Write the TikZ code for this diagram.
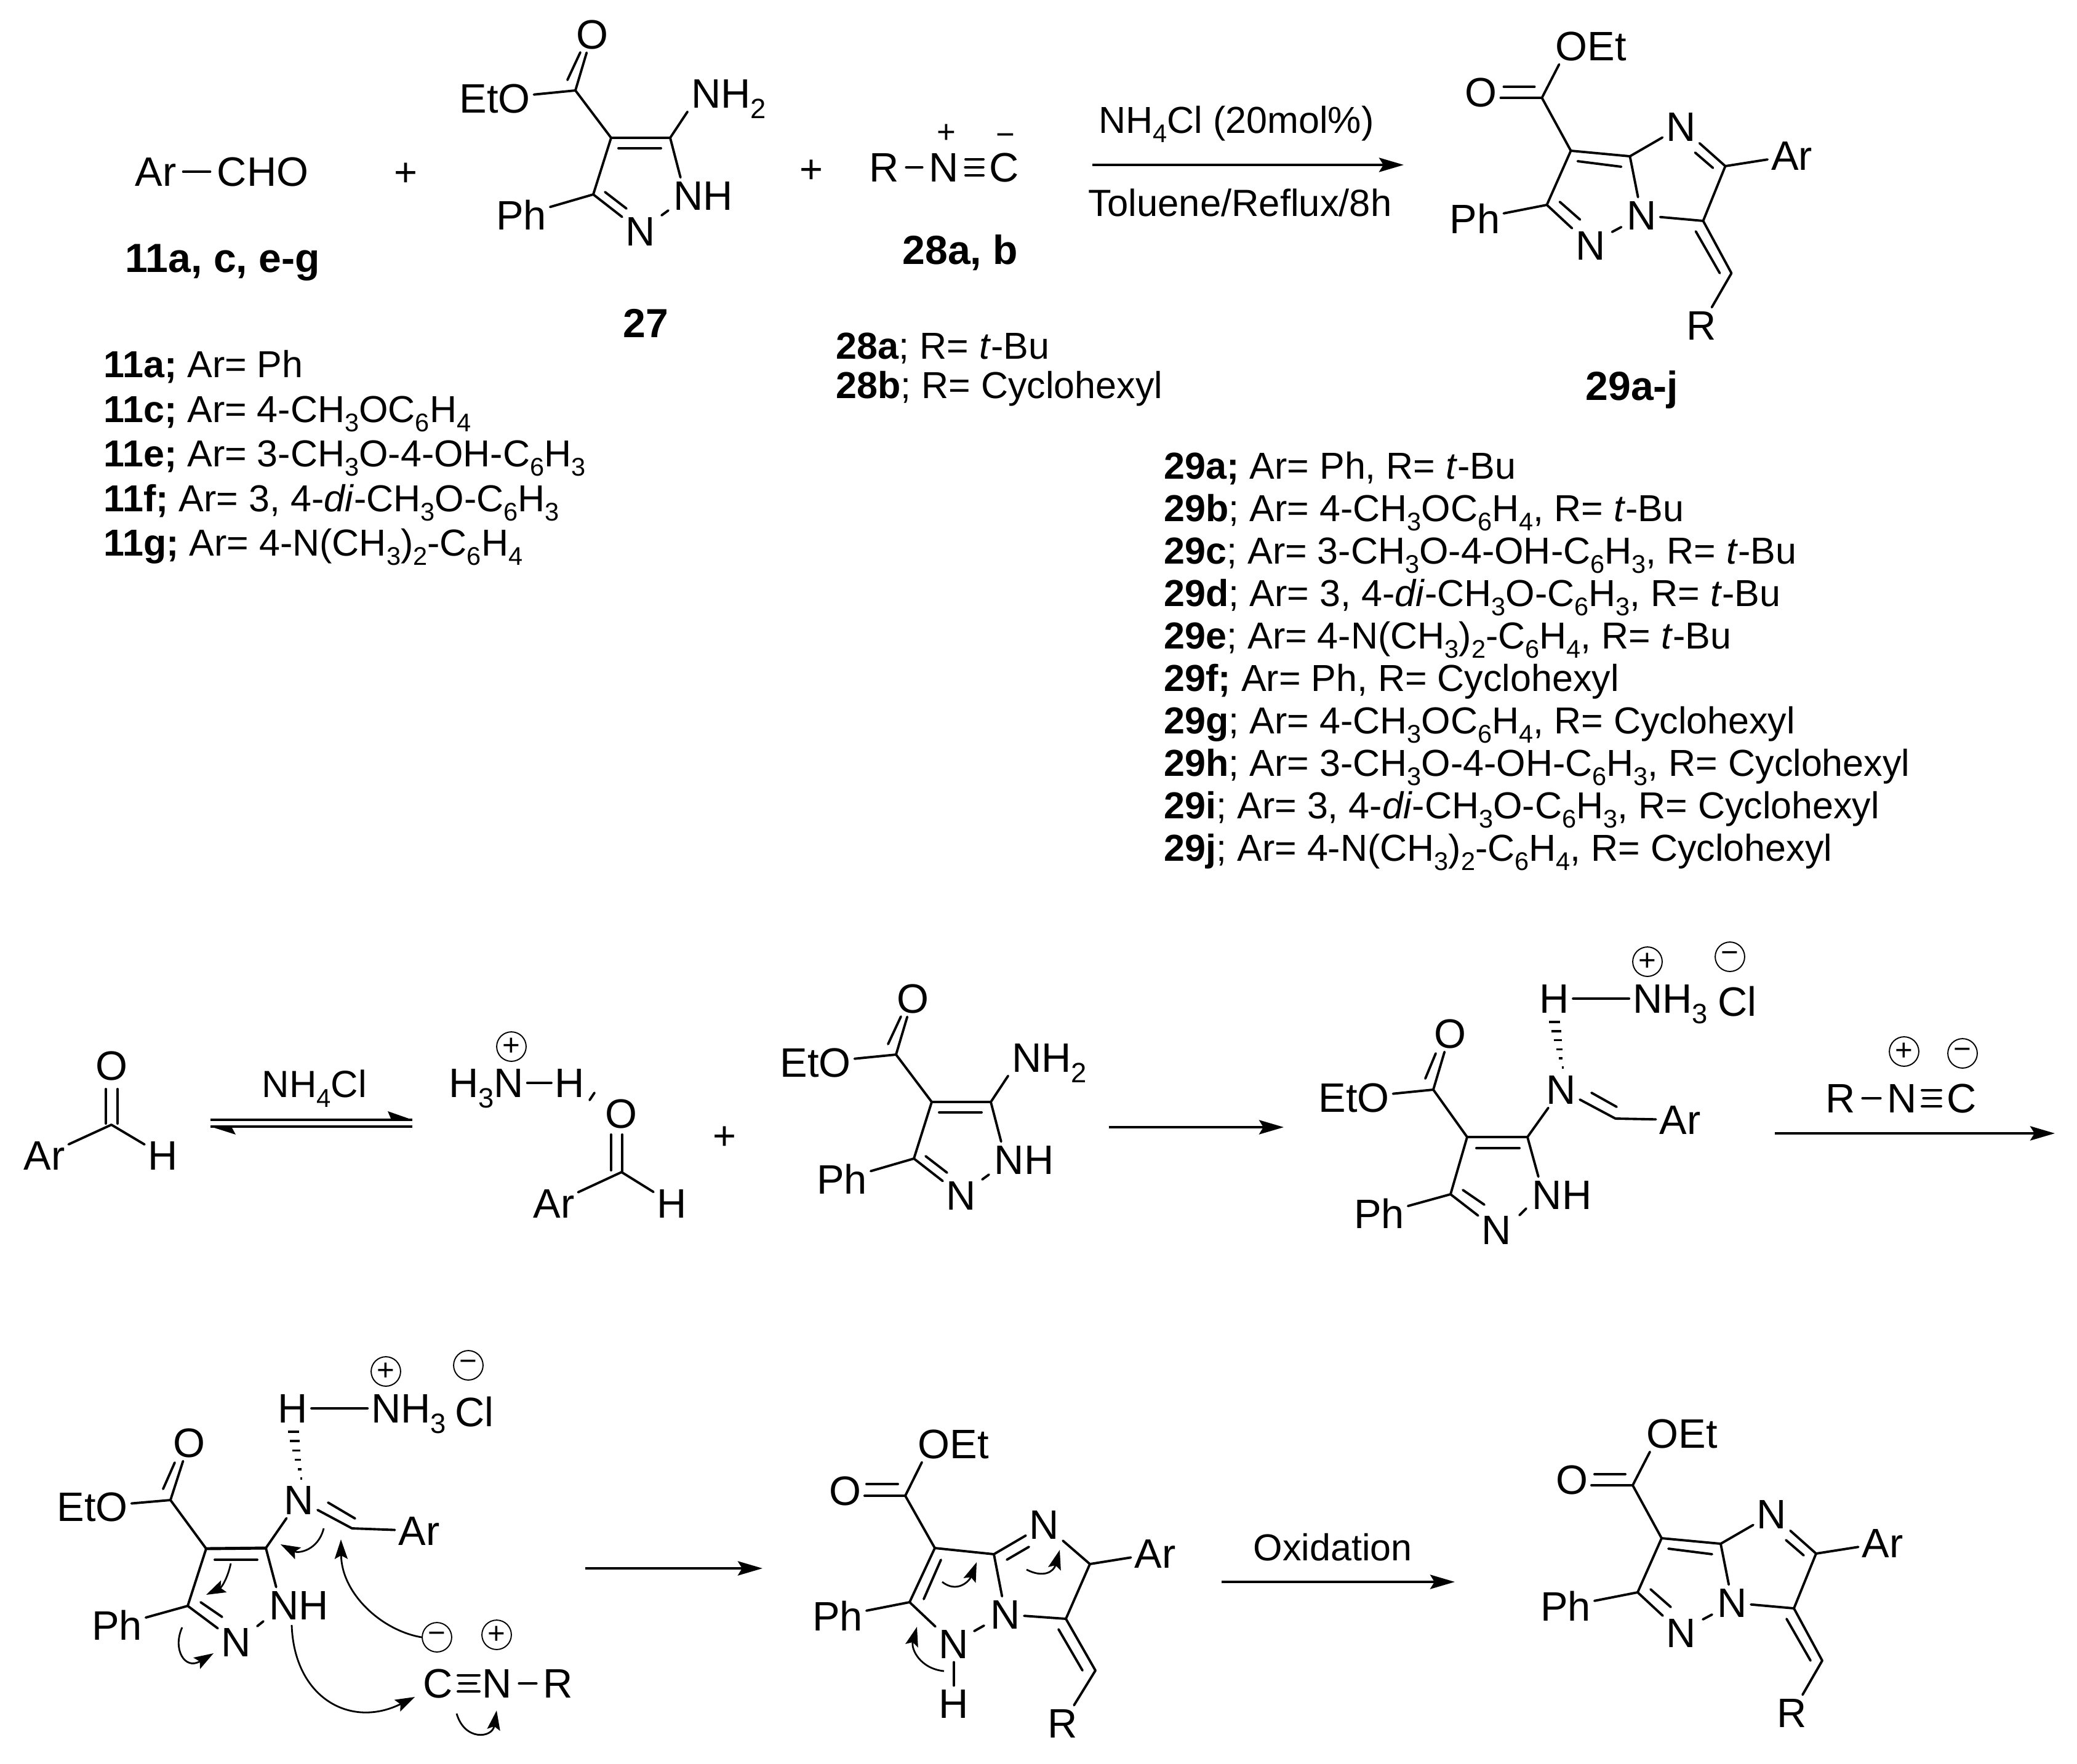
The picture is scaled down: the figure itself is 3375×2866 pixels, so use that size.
\documentclass[tikz,border=0pt]{standalone}
\usepackage{fontspec}
\setmainfont{Liberation Sans}
\usetikzlibrary{arrows.meta,calc}
\newcommand\fchem{\fontsize{19}{22}\selectfont}
\newcommand\flst{\fontsize{17.35}{20}\selectfont}
\newcommand\fcnd{\fontsize{17.5}{20}\selectfont}
\newcommand\fcpd{\fontsize{18.8}{22}\selectfont\bfseries}
\newcommand\sbs[1]{\raisebox{-.26em}{\scalebox{.68}{#1}}}
\tikzset{
  atom/.style={font=\fchem,inner sep=1.7pt,outer sep=0pt,text height=13.4pt,text depth=0pt},
  bnd/.style={line width=1.1pt,line cap=round,black},
  rxn/.style={line width=1.1pt,-{Stealth[length=11.4pt,width=6.6pt,inset=2pt]}},
  curv/.style={line width=.8pt,-{Stealth[length=9pt,width=6pt,inset=1.6pt]}},
  lst/.style={font=\flst,anchor=base west,inner sep=0pt},
  cond/.style={font=\fcnd,anchor=base west,inner sep=0pt},
  cpd/.style={font=\fcpd,anchor=base,inner sep=0pt},
  chg/.style={draw,circle,line width=.55pt,inner sep=0pt,minimum size=13.6pt,font=\fontsize{14}{14}\selectfont},
  sgn/.style={inner sep=0pt,font=\fontsize{15}{15}\selectfont},
  plus/.style={inner sep=0pt,font=\fontsize{18.5}{18.5}\selectfont},
}
% pyrazole amine 27
\newcommand\pyrazmol{%
  \coordinate (c) at (935,147);
  \coordinate (c4) at (993,224);
  \coordinate (c5) at (1089,224);
  \coordinate (c3) at (964,316);
  \node[atom] (o) at (962,56) {O};
  \node[atom] (eto) at (804,160) {EtO};
  \node[atom] (nh2) at (1184,152) {NH\sbs{2}};
  \node[atom] (nh) at (1143,318) {NH};
  \node[atom] (n) at (1041,376) {N};
  \node[atom] (ph) at (847,350) {Ph};
  \draw[bnd] (c) -- (o);
  \draw[bnd] (922,130) -- (943,85);
  \draw[bnd] (c) -- (eto);
  \draw[bnd] (c) -- (c4);
  \draw[bnd] (c4) -- (c5);
  \draw[bnd] (1005,241) -- (1074,241);
  \draw[bnd] (c5) -- (nh2.south west);
  \draw[bnd] (c5) -- ([shift={(17,0)}]nh.north west);
  \draw[bnd] (1075,350) -- (1086,342);
  \draw[bnd] (c3) -- (n);
  \draw[bnd] (983,312) -- (1018,339);
  \draw[bnd] (c3) -- (c4);
  \draw[bnd] (c3) -- (ph);
}
% final product 29
\newcommand\prodmol{%
  \coordinate (c) at (2653,2414);
  \coordinate (c3a) at (2700,2500);
  \coordinate (c7) at (2796,2509);
  \coordinate (car) at (2951,2525);
  \coordinate (cx) at (2915,2614);
  \coordinate (cph) at (2661,2588);
  \coordinate (ch) at (2961,2699);
  \node[atom] (o) at (2554,2405) {O};
  \node[atom] (oet) at (2733,2330) {OEt};
  \node[atom] (n7) at (2879,2461) {N};
  \node[atom] (ar) at (3059,2508) {Ar};
  \node[atom] (nb) at (2815,2605) {N};
  \node[atom] (nl) at (2732,2654) {N};
  \node[atom] (ph) at (2544,2611) {Ph};
  \node[atom] (r) at (2912,2784) {R};
  \draw[bnd] (c) -- (o.east |- c);
  \draw[bnd] (2591,2396) -- (2641,2396);
  \draw[bnd] (c) -- ([shift={(-52,0)}]oet.south);
  \draw[bnd] (c) -- (c3a);
  \draw[bnd] (c3a) -- (c7);
  \draw[bnd] (2711,2517) -- (2782,2526);
  \draw[bnd] (c7) -- (n7);
  \draw[bnd] (car) -- (n7);
  \draw[bnd] (2902,2503) -- (2931,2528);
  \draw[bnd] (car) -- (ar);
  \draw[bnd] (car) -- (cx);
  \draw[bnd] (c7) -- (nb);
  \draw[bnd] (cx) -- (nb);
  \draw[bnd] (2782,2624) -- (2767,2632);
  \draw[bnd] (c3a) -- (cph);
  \draw[bnd] (cph) -- (nl);
  \draw[bnd] (2682,2583) -- (2715,2612);
  \draw[bnd] (cph) -- (ph);
  \draw[bnd] (cx) -- (ch);
  \draw[bnd] (2903,2631) -- (2942,2699);
  \draw[bnd] (ch) -- (r);
}
% hashed bond: wide end at #1, narrow end at #2
\newcommand\hashb[2]{%
  \foreach \t/\w in {0/9,0.2/8,0.4/6.5,0.6/5,0.8/3,1/1.5}{%
    \draw[line width=1pt] ($(#1)!\t!(#2)+(-\w,0)$) -- ($(#1)!\t!(#2)+(\w,0)$);
  }%
}
\begin{document}
\begin{tikzpicture}[x=0.01cm,y=-0.01cm]
\useasboundingbox[fill=white] (0,0) rectangle (3375,2866);

% ---------- top reaction ----------
\node[atom] (ar0) at (253,279) {Ar};
\node[atom] (cho0) at (427,279) {CHO};
\draw[bnd,shorten <=1.5pt,shorten >=1.5pt] (ar0) -- (cho0);
\node[cpd,anchor=base west] (lab11) at (203,442) {11a, c, e-g};
\node[plus] (plus1) at (659,284) {+};
\begin{scope}[name prefix=a-]
  \pyrazmol
\end{scope}
\node[cpd] (lab27) at (1049,548) {27};
\node[plus] (plus2) at (1318,279) {+};
\node[atom] (r0) at (1437,272) {R};
\node[atom] (n0) at (1534,272) {N};
\node[atom] (c0) at (1632,272) {C};
\draw[bnd,shorten <=1.5pt,shorten >=1.5pt] (r0) -- (n0);
\draw[bnd,shorten <=1.2pt,shorten >=1.2pt] (n0) -- (c0);
\draw[bnd] (1569,259) -- (1598,259);
\draw[bnd] (1569,285) -- (1598,285);
\node[sgn] (p0) at (1538,217) {+};
\node[sgn] (m0) at (1634,227) {−};
\node[cpd,anchor=base west] (lab28) at (1466,429) {28a, b};
\coordinate (a1s) at (1775,268);
\coordinate (a1e) at (2281,268);
\draw[rxn] (a1s) -- (a1e);
\node[cond,font=\flst] (cond1) at (1785,216) {NH\sbs{4}Cl (20mol\%)};
\node[cond] (cond2) at (1768,351) {Toluene/Reflux/8h};
\begin{scope}[shift={(-147.5,-2255)},name prefix=b-]
  \prodmol
\end{scope}
\node[cpd] (lab29) at (2652,650) {29a-j};

% ---------- substituent lists ----------
\node[lst] (l11a) at (168,613) {\textbf{11a;} Ar= Ph};
\node[lst] (l11c) at (168,686) {\textbf{11c;} Ar= 4-CH\sbs{3}OC\sbs{6}H\sbs{4}};
\node[lst] (l11e) at (168,758) {\textbf{11e;} Ar= 3-CH\sbs{3}O-4-OH-C\sbs{6}H\sbs{3}};
\node[lst] (l11f) at (168,831) {\textbf{11f;} Ar= 3, 4-\textit{di}-CH\sbs{3}O-C\sbs{6}H\sbs{3}};
\node[lst] (l11g) at (168,903) {\textbf{11g;} Ar= 4-N(CH\sbs{3})\sbs{2}-C\sbs{6}H\sbs{4}};
\node[lst] (l28a) at (1358,583) {\textbf{28a}; R= \textit{t}-Bu};
\node[lst] (l28b) at (1358,647) {\textbf{28b}; R= Cyclohexyl};
\node[lst] (l29a) at (1891,778) {\textbf{29a;} Ar= Ph, R= \textit{t}-Bu};
\node[lst] (l29b) at (1891,847) {\textbf{29b}; Ar= 4-CH\sbs{3}OC\sbs{6}H\sbs{4}, R= \textit{t}-Bu};
\node[lst] (l29c) at (1891,916) {\textbf{29c}; Ar= 3-CH\sbs{3}O-4-OH-C\sbs{6}H\sbs{3}, R= \textit{t}-Bu};
\node[lst] (l29d) at (1891,985) {\textbf{29d}; Ar= 3, 4-\textit{di}-CH\sbs{3}O-C\sbs{6}H\sbs{3}, R= \textit{t}-Bu};
\node[lst] (l29e) at (1891,1054) {\textbf{29e}; Ar= 4-N(CH\sbs{3})\sbs{2}-C\sbs{6}H\sbs{4}, R= \textit{t}-Bu};
\node[lst] (l29f) at (1891,1123) {\textbf{29f;} Ar= Ph, R= Cyclohexyl};
\node[lst] (l29g) at (1891,1192) {\textbf{29g}; Ar= 4-CH\sbs{3}OC\sbs{6}H\sbs{4}, R= Cyclohexyl};
\node[lst] (l29h) at (1891,1261) {\textbf{29h}; Ar= 3-CH\sbs{3}O-4-OH-C\sbs{6}H\sbs{3}, R= Cyclohexyl};
\node[lst] (l29i) at (1891,1330) {\textbf{29i}; Ar= 3, 4-\textit{di}-CH\sbs{3}O-C\sbs{6}H\sbs{3}, R= Cyclohexyl};
\node[lst] (l29j) at (1891,1399) {\textbf{29j}; Ar= 4-N(CH\sbs{3})\sbs{2}-C\sbs{6}H\sbs{4}, R= Cyclohexyl};

% ---------- mechanism, row 1 ----------
\node[atom] (ald-o) at (181,1732) {O};
\coordinate (ald-c) at (181,1828);
\node[atom] (ald-ar) at (72,1878) {Ar};
\node[atom] (ald-h) at (265,1878) {H};
\draw[bnd] (ald-c) -- (ald-ar);
\draw[bnd] (ald-c) -- (ald-h);
\draw[bnd] (172,1770) -- (172,1826);
\draw[bnd] (191,1770) -- (191,1826);
\node[cond] (cond3) at (425,1783) {NH\sbs{4}Cl};
\coordinate (eq1s) at (342,1820);
\coordinate (eq1e) at (670,1820);
\coordinate (eq2s) at (670,1831);
\coordinate (eq2e) at (342,1831);
\draw[line width=1.1pt] (eq1s) -- (eq1e);
\draw[line width=1.1pt] (eq2s) -- (eq2e);
\fill (eq1e) -- (630,1806) -- (636,1820) -- cycle;
\fill (eq2e) -- (383,1844) -- (376,1831) -- cycle;

\node[atom] (h3n) at (790,1760) {H\sbs{3}N};
\node[chg] (h3np) at (831,1701) {+};
\node[atom] (hh) at (926,1760) {H};
\draw[bnd] (h3n) -- (hh);
\draw[bnd] (966,1776) -- (958,1788);
\node[atom] (ald2-o) at (1009,1810) {O};
\coordinate (ald2-c) at (1010,1905);
\node[atom] (ald2-ar) at (900,1956) {Ar};
\node[atom] (ald2-h) at (1092,1956) {H};
\draw[bnd] (ald2-c) -- (ald2-ar);
\draw[bnd] (ald2-c) -- (ald2-h);
\draw[bnd] (993,1844) -- (993,1902);
\draw[bnd] (1011,1844) -- (1011,1905);
\node[plus] (plus3) at (1177,1850) {+};
\begin{scope}[shift={(521,1567)},name prefix=d-]
  \pyrazmol
\end{scope}
\coordinate (a2s) at (1802,1832);
\coordinate (a2e) at (2086,1832);
\draw[rxn] (a2s) -- (a2e);

% imine intermediate
\begin{scope}[name prefix=i-]
  \coordinate (c) at (2329,1771);
  \coordinate (c4) at (2384,1848);
  \coordinate (c5) at (2482,1848);
  \coordinate (c3) at (2357,1941);
  \coordinate (ch) at (2625,1818);
  \node[atom] (o) at (2356,1680) {O};
  \node[atom] (eto) at (2200,1784) {EtO};
  \node[atom] (nh) at (2538,1942) {NH};
  \node[atom] (n) at (2432,1999) {N};
  \node[atom] (ph) at (2241,1973) {Ph};
  \node[atom] (ni) at (2537,1771) {N};
  \node[atom] (ar) at (2730,1820) {Ar};
  \node[atom] (h) at (2526,1623) {H};
  \node[atom] (nh3) at (2714,1623) {NH\sbs{3}};
  \node[atom] (cl) at (2823,1628) {Cl};
  \node[chg] (cp) at (2677,1563) {+};
  \node[chg] (cm) at (2811,1555) {−};
  \draw[bnd] (c) -- (o);
  \draw[bnd] (2316,1753) -- (2333,1712);
  \draw[bnd] (c) -- (eto);
  \draw[bnd] (c) -- (c4);
  \draw[bnd] (c4) -- (c5);
  \draw[bnd] (2399,1866) -- (2469,1866);
  \draw[bnd] (c3) -- (c4);
  \draw[bnd] (c3) -- (n);
  \draw[bnd] (2377,1934) -- (2412,1958);
  \draw[bnd] (c3) -- (ph);
  \draw[bnd] (c5) -- ([shift={(16,0)}]nh.north west);
  \draw[bnd] (2480,1964) -- (2469,1975);
  \draw[bnd] (c5) -- (ni);
  \draw[bnd] (ch) -- (ni);
  \draw[bnd] (2586,1776) -- (2627,1799);
  \draw[bnd] (ch) -- (ar);
  \draw[bnd] (h) -- (nh3);
  \coordinate (hs) at (2526,1661);
  \coordinate (he) at (2539,1735);
  \hashb{hs}{he}
\end{scope}
\node[atom] (r1) at (2991,1785) {R};
\node[atom] (n1) at (3091,1785) {N};
\node[atom] (c1) at (3188,1785) {C};
\draw[bnd,shorten <=1.5pt,shorten >=1.5pt] (r1) -- (n1);
\draw[bnd,shorten <=1.2pt,shorten >=1.2pt] (n1) -- (c1);
\draw[bnd] (3123,1772) -- (3154,1772);
\draw[bnd] (3123,1798) -- (3154,1798);
\node[chg] (p1) at (3094,1709) {+};
\node[chg] (m1) at (3189,1712) {−};
\coordinate (a3s) at (2884,1842);
\coordinate (a3e) at (3339,1842);
\draw[rxn] (a3s) -- (a3e);

% ---------- mechanism, row 2 ----------
\begin{scope}[name prefix=m-]
  \coordinate (c) at (277,2438);
  \coordinate (c4) at (335,2517);
  \coordinate (c5) at (432,2516);
  \coordinate (c3) at (305,2610);
  \coordinate (ch) at (572,2484);
  \node[atom] (h) at (476,2289) {H};
  \node[atom] (nh3) at (664,2289) {NH\sbs{3}};
  \node[atom] (cl) at (771,2295) {Cl};
  \node[chg] (cp) at (627,2229) {+};
  \node[chg] (cm) at (761,2219) {−};
  \node[atom] (o) at (307,2345) {O};
  \node[atom] (eto) at (150,2449) {EtO};
  \node[atom] (ni) at (486,2438) {N};
  \node[atom] (ar) at (681,2488) {Ar};
  \node[atom] (nh) at (486,2609) {NH};
  \node[atom] (n) at (384,2669) {N};
  \node[atom] (ph) at (190,2642) {Ph};
  \draw[bnd] (h) -- (nh3);
  \coordinate (hs) at (477,2327);
  \coordinate (he) at (489,2403);
  \hashb{hs}{he}
  \draw[bnd] (c) -- (o);
  \draw[bnd] (265,2420) -- (284,2377);
  \draw[bnd] (c) -- (eto);
  \draw[bnd] (c) -- (c4);
  \draw[bnd,line width=1.4pt] (c4) -- (c5);
  \draw[bnd] (349,2535) -- (418,2535);
  \draw[bnd] (c3) -- (c4);
  \draw[bnd] (c5) -- (ni);
  \draw[bnd] (ch) -- (ni);
  \draw[bnd] (533,2442) -- (577,2468);
  \draw[bnd] (ch) -- (ar);
  \draw[bnd] (c5) -- ([shift={(17,0)}]nh.north west);
  \draw[bnd] (428,2635) -- (418,2643);
  \draw[bnd] (c3) -- (n);
  \draw[bnd] (326,2604) -- (361,2628);
  \draw[bnd] (c3) -- (ph);
  \node[atom] (ci) at (712,2736) {C};
  \node[atom] (ni2) at (808,2736) {N};
  \node[atom] (ri) at (907,2736) {R};
  \draw[bnd,shorten <=1.2pt,shorten >=1.2pt] (ci) -- (ni2);
  \draw[bnd] (744,2723) -- (779,2723);
  \draw[bnd] (744,2749) -- (779,2749);
  \draw[bnd,shorten <=1.5pt,shorten >=1.5pt] (ni2) -- (ri);
  \node[chg] (mi) at (710,2661) {−};
  \node[chg] (pi) at (807,2657) {+};
  \draw[curv] (526,2484) .. controls (517,2520) and (485,2525) .. (456,2510);
  \draw[curv] (375,2541) .. controls (370,2565) and (360,2580) .. (335,2592);
  \draw[curv] (296,2645) .. controls (280,2680) and (300,2715) .. (347,2687);
  \draw[curv] (mi.west) .. controls (620,2650) and (555,2590) .. (554,2502);
  \draw[curv] (474,2641) .. controls (478,2760) and (570,2810) .. (674,2758);
  \draw[curv] (742,2785) .. controls (755,2830) and (800,2825) .. (807,2780);
\end{scope}
\coordinate (a4s) at (951,2549);
\coordinate (a4e) at (1239,2549);
\draw[rxn] (a4s) -- (a4e);

% dihydro intermediate
\begin{scope}[name prefix=k-]
  \coordinate (c) at (1471,2431);
  \coordinate (c3a) at (1519,2516);
  \coordinate (c7) at (1615,2526);
  \coordinate (car) at (1771,2542);
  \coordinate (cx) at (1732,2631);
  \coordinate (cph) at (1478,2604);
  \coordinate (ch) at (1780,2715);
  \node[atom] (o) at (1373,2423) {O};
  \node[atom] (oet) at (1549,2347) {OEt};
  \node[atom] (nt) at (1697,2478) {N};
  \node[atom] (ar) at (1877,2525) {Ar};
  \node[atom] (nb) at (1634,2624) {N};
  \node[atom] (nl) at (1550,2672) {N};
  \node[atom] (hn) at (1550,2769) {H};
  \node[atom] (ph) at (1361,2627) {Ph};
  \node[atom] (r) at (1727,2801) {R};
  \draw[bnd] (c) -- (o.east |- c);
  \draw[bnd] (1408,2412) -- (1459,2412);
  \draw[bnd] (c) -- ([shift={(-51,0)}]oet.south);
  \draw[bnd] (c) -- (c3a);
  \draw[bnd] (c3a) -- (c7);
  \draw[bnd] (c7) -- (nt);
  \draw[bnd] (1636,2535) -- (1672,2514);
  \draw[bnd] (car) -- (nt);
  \draw[bnd] (car) -- (ar);
  \draw[bnd] (car) -- (cx);
  \draw[bnd] (cx) -- (nb);
  \draw[bnd] (c7) -- (nb);
  \draw[bnd] (c3a) -- (cph);
  \draw[bnd] (1529,2535) -- (1501,2599);
  \draw[bnd] (cph) -- (ph);
  \draw[bnd] (cph) -- (nl);
  \draw[bnd] (1599,2642) -- (1583,2651);
  \draw[bnd] (nl) -- (hn);
  \draw[bnd] (cx) -- (ch);
  \draw[bnd] (1720,2648) -- (1759,2715);
  \draw[bnd] (ch) -- (r);
  \draw[curv] (1534,2716) .. controls (1495,2712) and (1480,2680) .. (1490,2644);
  \draw[curv] (1531,2571) .. controls (1555,2590) and (1575,2570) .. (1587,2539);
  \draw[curv] (1668,2551) .. controls (1695,2565) and (1712,2555) .. (1722,2519);
\end{scope}
\coordinate (a5s) at (1985,2571);
\coordinate (a5e) at (2364,2571);
\draw[rxn] (a5s) -- (a5e);
\node[cond,font=\flst] (cond4) at (2036,2536) {Oxidation};
\begin{scope}[name prefix=e-]
  \prodmol
\end{scope}
\end{tikzpicture}
\end{document}
